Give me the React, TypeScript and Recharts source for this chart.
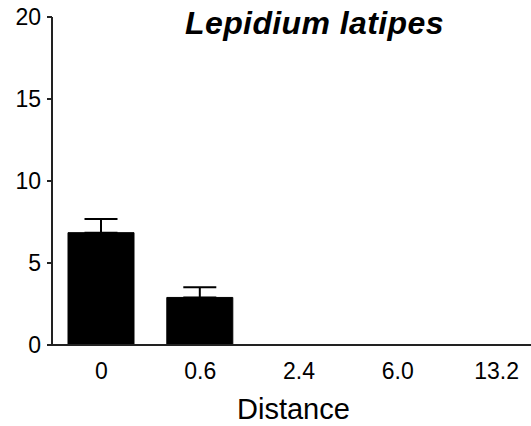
import React from "react";
import { BarChart, Bar, XAxis, YAxis, ErrorBar } from "recharts";

const distances = ["0", "0.6", "2.4", "6.0", "13.2"];
const means = [6.85, 2.9, 0, 0, 0];
const errUp = [0.83, 0.62, null, null, null];
const yTicks = [0, 5, 10, 15, 20];

const data = distances.map((d, i) => ({
  distance: d,
  mean: means[i],
  err: errUp[i] == null ? null : [0, errUp[i]],
}));

const FONT = '"Liberation Sans", Arial, sans-serif';
const tickStyle = { fill: "#000", fontSize: 23, fontFamily: FONT };

export default function App() {
  return (
    <div
      style={{
        position: "absolute",
        left: 0,
        top: 0,
        width: 531,
        height: 426,
        overflow: "hidden",
        background: "#fff",
      }}
    >
      <BarChart
        width={560}
        height={426}
        data={data}
        margin={{ top: 17, right: 14, bottom: 51, left: 0 }}
        barSize={66}
      >
        <XAxis
          dataKey="distance"
          tick={tickStyle}
          tickLine={false}
          tickSize={0}
          tickMargin={18}
          axisLine={{ stroke: "#222", strokeWidth: 2 }}
          height={30}
          interval={0}
        />
        <YAxis
          domain={[0, 20]}
          ticks={yTicks}
          width={52}
          tick={tickStyle}
          tickSize={5}
          tickMargin={6}
          tickLine={{ stroke: "#222", strokeWidth: 2 }}
          axisLine={{ stroke: "#222", strokeWidth: 2 }}
        />
        <Bar dataKey="mean" fill="#000" stroke="#000" isAnimationActive={false}>
          <ErrorBar
            dataKey="err"
            width={16.5}
            stroke="#000"
            strokeWidth={2}
            direction="y"
          />
        </Bar>
      </BarChart>
      {/* title and axis label */}
      <div
        style={{
          position: "absolute",
          left: 185,
          top: 5,
          fontFamily: FONT,
          fontSize: 32,
          letterSpacing: 0.4,
          fontWeight: "bold",
          fontStyle: "italic",
          color: "#000",
          whiteSpace: "nowrap",
        }}
      >
        Lepidium latipes
      </div>
      <div
        style={{
          position: "absolute",
          left: 237,
          top: 393,
          fontFamily: FONT,
          fontSize: 29,
          color: "#000",
          whiteSpace: "nowrap",
        }}
      >
        Distance
      </div>
    </div>
  );
}
